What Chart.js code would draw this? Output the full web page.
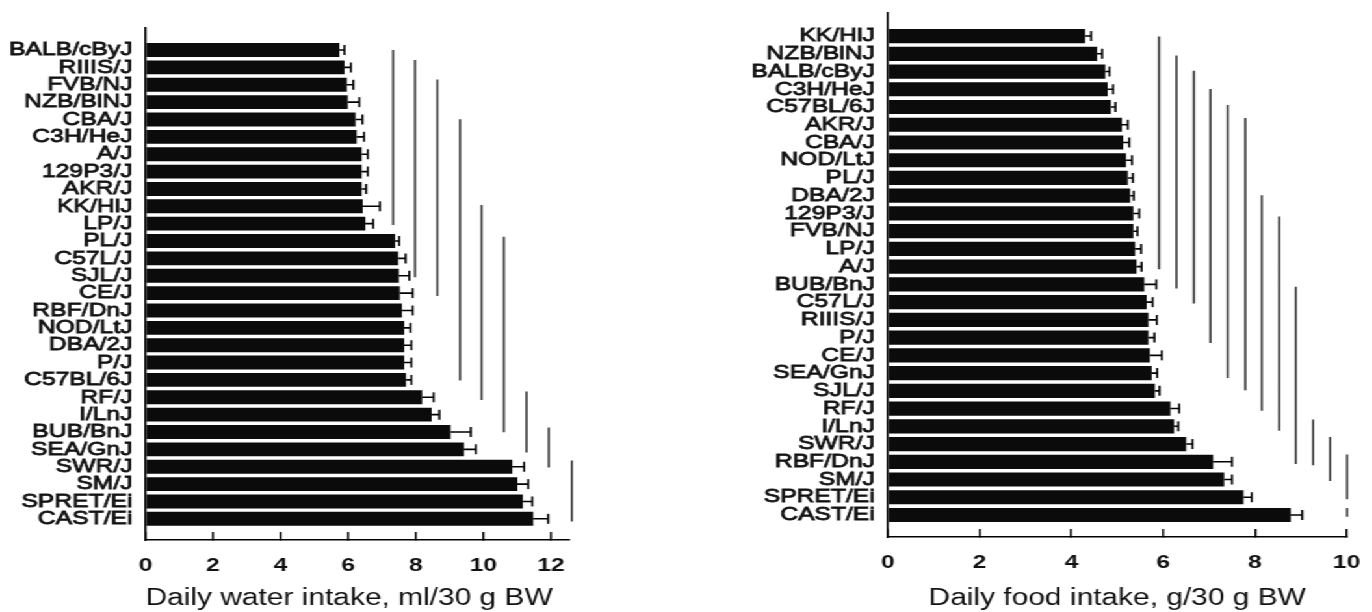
<!DOCTYPE html>
<html>
<head>
<meta charset="utf-8">
<script src="https://cdn.jsdelivr.net/npm/chart.js@4.4.1/dist/chart.umd.min.js"></script>
<style>
  html, body { margin: 0; padding: 0; background: #fff; overflow: hidden; }
  #wrap { position: absolute; left: 0; top: 0; height: 612px; transform-origin: 0 0; }
  .box { position: absolute; top: 0; height: 612px; }
  canvas { display: block; }
</style>
</head>
<body>
<div id="wrap">
  <div class="box" id="boxL"><canvas id="waterChart"></canvas></div>
  <div class="box" id="boxR"><canvas id="foodChart"></canvas></div>
</div>
<script>
// ---------------- DATA ----------------
const waterStrains = ['BALB/cByJ','RIIIS/J','FVB/NJ','NZB/BlNJ','CBA/J','C3H/HeJ','A/J','129P3/J','AKR/J','KK/HlJ','LP/J','PL/J','C57L/J','SJL/J','CE/J','RBF/DnJ','NOD/LtJ','DBA/2J','P/J','C57BL/6J','RF/J','I/LnJ','BUB/BnJ','SEA/GnJ','SWR/J','SM/J','SPRET/Ei','CAST/Ei'];
const waterMean = [5.74,5.89,5.96,5.99,6.22,6.25,6.40,6.40,6.40,6.43,6.51,7.39,7.48,7.50,7.53,7.59,7.66,7.66,7.66,7.71,8.19,8.47,9.03,9.43,10.86,11.01,11.17,11.48];
const waterSem = [0.15,0.19,0.19,0.34,0.20,0.22,0.18,0.18,0.13,0.51,0.23,0.12,0.22,0.31,0.38,0.32,0.18,0.21,0.21,0.16,0.34,0.23,0.60,0.35,0.35,0.32,0.28,0.44];
// non-significant groups (vertical lines): x position, first/last strain index
const waterGroupX  = [7.33,7.98,8.64,9.31,9.95,10.61,11.28,11.94,12.62];
const waterGroupY0 = [0,0.58,1.69,3.99,8.92,10.75,19.67,21.74,23.64];
const waterGroupY1 = [10.07,13.09,14.16,19.04,20.15,22.01,23.18,24.05,27.16];
const waterTicks = [0,2,4,6,8,10,12];

const foodStrains = ['KK/HlJ','NZB/BlNJ','BALB/cByJ','C3H/HeJ','C57BL/6J','AKR/J','CBA/J','NOD/LtJ','PL/J','DBA/2J','129P3/J','FVB/NJ','LP/J','A/J','BUB/BnJ','C57L/J','RIIIS/J','P/J','CE/J','SEA/GnJ','SJL/J','RF/J','I/LnJ','SWR/J','RBF/DnJ','SM/J','SPRET/Ei','CAST/Ei'];
const foodMean = [4.30,4.56,4.74,4.79,4.86,5.10,5.13,5.19,5.23,5.28,5.35,5.35,5.39,5.42,5.59,5.64,5.68,5.68,5.71,5.75,5.82,6.16,6.24,6.50,7.09,7.33,7.75,8.78];
const foodSem = [0.13,0.11,0.09,0.12,0.10,0.13,0.13,0.13,0.11,0.08,0.13,0.09,0.13,0.11,0.26,0.13,0.18,0.13,0.26,0.12,0.10,0.19,0.09,0.14,0.41,0.17,0.18,0.25];
const foodGroupX  = [5.91,6.29,6.67,7.03,7.41,7.79,8.15,8.53,8.89,9.27,9.64,10.01,10.01];
const foodGroupY0 = [0.03,1.10,1.95,2.98,3.89,4.62,8.98,10.17,14.13,21.61,22.60,23.59,26.6];
const foodGroupY1 = [13.14,14.23,15.08,17.30,19.28,19.97,21.12,22.25,24.13,24.19,25.08,26.11,27.1];
const foodTicks = [0,2,4,6,8,10];

const waterTitle = 'Daily water intake, ml/30 g BW';
const foodTitle = 'Daily food intake, g/30 g BW';

// ---------------- LAYOUT ----------------
const S = 1.3;                       // horizontal stretch of the scanned figure
const FONT = "'Liberation Sans', Arial, Helvetica, sans-serif";
document.getElementById('wrap').style.width = (1372 / S) + 'px';
document.getElementById('wrap').style.transform = 'scaleX(' + S + ')';

function errPoints(means, sems) {
  const pts = [];
  means.forEach((m, i) => {
    pts.push({x: m, y: i}, {x: m + sems[i], y: i}, {x: null, y: null});
  });
  return pts;
}
function groupPoints(xs, y0, y1) {
  const pts = [];
  xs.forEach((x, i) => {
    pts.push({x: x, y: y0[i]}, {x: x, y: y1[i]}, {x: null, y: null});
  });
  return pts;
}

function makeChart(opt) {
  const box = document.getElementById(opt.box);
  const left = opt.boxLeft / S;
  const width = 1372 / S - left - (opt.boxRightGap || 0) / S;
  box.style.left = left + 'px';
  box.style.width = width + 'px';
  const canvas = document.getElementById(opt.canvas);
  canvas.width = Math.round(width);
  canvas.height = 612;
  const yAxisW = opt.plotLeft / S - left;
  const padRight = Math.round(width) - (opt.plotRight / S - left);
  const xAxisH = 612 - opt.plotBottom;

  return new Chart(canvas, {
    type: 'bar',
    data: {
      datasets: [
        {
          type: 'bar',
          indexAxis: 'y',
          data: opt.mean.map((v, i) => ({x: v, y: i})),
          backgroundColor: '#0b0b0b',
          borderWidth: 0,
          barPercentage: 0.8,
          categoryPercentage: 1,
          order: 2
        },
        {
          type: 'line',
          data: errPoints(opt.mean, opt.sem),
          borderColor: '#000',
          borderWidth: 1.6,
          tension: 0,
          fill: false,
          spanGaps: false,
          pointStyle: 'line',
          rotation: 90,
          pointRadius: (c) => (c.index % 3 === 1 ? 5 : 0),
          pointBorderWidth: 1.6,
          pointBorderColor: '#000',
          pointHoverRadius: 0,
          clip: false,
          order: 0
        },
        {
          type: 'line',
          data: groupPoints(opt.gx, opt.gy0, opt.gy1),
          borderColor: '#333',
          borderWidth: 1.6,
          tension: 0,
          fill: false,
          spanGaps: false,
          pointRadius: 0,
          pointHoverRadius: 0,
          clip: false,
          order: 1
        }
      ]
    },
    options: {
      responsive: false,
      animation: false,
      events: [],
      layout: { padding: { top: opt.plotTop, right: padRight, bottom: 0, left: 0 } },
      plugins: { legend: { display: false }, tooltip: { enabled: false } },
      scales: {
        x: {
          type: 'linear',
          position: 'bottom',
          min: 0,
          max: opt.xMax,
          offset: false,
          border: { display: true, color: '#000', width: 1.6 },
          grid: { display: true, drawOnChartArea: false, drawTicks: true, tickLength: -8, color: '#000', lineWidth: 1.5, offset: false },
          afterBuildTicks: (s) => { s.ticks = opt.ticks.map(v => ({value: v})); },
          ticks: {
            padding: opt.tickPad,
            color: '#111',
            font: { family: FONT, size: 19, weight: 'bold' },
            maxRotation: 0,
            autoSkip: false
          },
          title: {
            display: true,
            text: opt.title,
            align: opt.titleAlign,
            color: '#111',
            font: { family: FONT, size: 23, weight: 'normal' },
            padding: { top: 0, bottom: 0 }
          },
          afterFit: (s) => { s.height = xAxisH; s.paddingLeft = 0; s.paddingRight = 0; }
        },
        y: {
          type: 'linear',
          position: 'left',
          reverse: true,
          min: opt.yMin,
          max: opt.yMax,
          offset: false,
          border: { display: true, color: '#000', width: 1.6 },
          grid: { display: false, drawTicks: false, offset: false },
          afterBuildTicks: (s) => { s.ticks = opt.labels.map((l, i) => ({value: i})); },
          ticks: {
            autoSkip: false,
            padding: 10,
            color: '#111',
            textStrokeColor: '#111',
            textStrokeWidth: 0.8,
            font: { family: FONT, size: 19, weight: 'normal', lineHeight: 1.0 },
            callback: (v) => opt.labels[v]
          },
          afterFit: (s) => { s.width = yAxisW; s.paddingTop = 0; s.paddingBottom = 0; }
        }
      }
    }
  });
}

makeChart({
  box: 'boxL', canvas: 'waterChart',
  boxLeft: 0, boxRightGap: 1372 - 600,
  plotLeft: 145.5, plotRight: 569.4, plotTop: 28, plotBottom: 540,
  yMin: -1.27, yMax: 28.22, xMax: 12.55,
  labels: waterStrains, mean: waterMean, sem: waterSem,
  gx: waterGroupX, gy0: waterGroupY0, gy1: waterGroupY1,
  ticks: waterTicks, title: waterTitle, titleAlign: 'start', tickPad: 22
});

makeChart({
  box: 'boxR', canvas: 'foodChart',
  boxLeft: 700, boxRightGap: 0,
  plotLeft: 888.5, plotRight: 1347.3, plotTop: 13, plotBottom: 537,
  yMin: -1.3, yMax: 28.24, xMax: 10,
  labels: foodStrains, mean: foodMean, sem: foodSem,
  gx: foodGroupX, gy0: foodGroupY0, gy1: foodGroupY1,
  ticks: foodTicks, title: foodTitle, titleAlign: 'center', tickPad: 22
});
</script>
</body>
</html>
